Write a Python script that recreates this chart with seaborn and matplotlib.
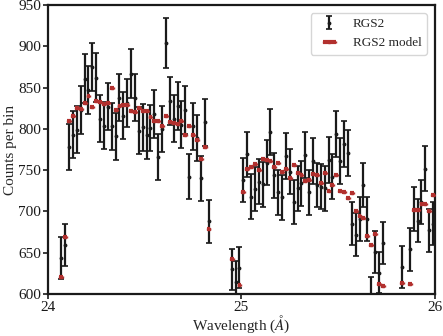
import numpy as np
import pandas as pd
import seaborn as sns
import matplotlib.pyplot as plt

# bin centres (Angstrom), observed counts and model counts
wavelength = [24.07, 24.09, 24.11, 24.13, 24.15, 24.17, 24.19, 24.21, 24.23, 24.25,
              24.27, 24.29, 24.31, 24.33, 24.35, 24.37, 24.39, 24.41, 24.43, 24.45,
              24.47, 24.49, 24.51, 24.53, 24.55, 24.57, 24.59, 24.61, 24.63, 24.65,
              24.67, 24.69, 24.71, 24.73, 24.75, 24.77, 24.79, 24.81, 24.83,
              24.95, 24.97, 24.99, 25.01, 25.03, 25.05, 25.07, 25.09, 25.11, 25.13,
              25.15, 25.17, 25.19, 25.21, 25.23, 25.25, 25.27, 25.29, 25.31, 25.33,
              25.35, 25.37, 25.39, 25.41, 25.43, 25.45, 25.47, 25.49, 25.51, 25.53,
              25.55, 25.57, 25.59, 25.61, 25.63, 25.65, 25.67, 25.69, 25.71, 25.73,
              25.83, 25.87, 25.89, 25.91, 25.93, 25.95, 25.97, 25.99]
counts = [644, 659, 778, 793, 799, 823, 861, 847, 875, 862,
          812, 804, 827, 803, 791, 838, 816, 831, 867, 838,
          798, 802, 792, 801, 818, 766, 800, 904, 834, 812,
          828, 805, 823, 742, 803, 789, 740, 808, 688,
          630, 615, 632, 738, 769, 718, 727, 736, 733, 759,
          796, 744, 723, 717, 767, 748, 711, 728, 734, 768,
          723, 761, 732, 730, 728, 762, 742, 794, 761, 782,
          771, 685, 672, 691, 732, 691, 596, 651, 626, 662,
          633, 654, 703, 689, 711, 752, 677, 685]
model = [620, 669, 809, 816, 825, 824, 831, 840, 826, 834,
         832, 830, 831, 849, 823, 828, 829, 829, 822, 820,
         825, 822, 822, 814, 810, 810, 804, 815, 808, 807,
         806, 810, 792, 803, 793, 787, 764, 778, 679,
         642, 590, 611, 724, 752, 754, 757, 750, 763, 762,
         761, 754, 759, 748, 752, 740, 756, 747, 744, 737,
         738, 745, 744, 734, 747, 725, 732, 744, 725, 723,
         716, 722, 701, 694, 692, 670, 659, 673, 612, 610,
         613, 612, 702, 702, 709, 709, 700, 720]
bin_width = 0.02

df = pd.DataFrame({"wl": wavelength, "counts": counts, "model": model})
df["err"] = np.sqrt(df["counts"])  # poisson errors

sns.set_theme(style="ticks")
plt.rcParams["font.family"] = ["Liberation Serif", "DejaVu Serif"]
plt.rcParams["mathtext.fontset"] = "stix"

fig = plt.figure(figsize=(4.43, 3.36), dpi=100)
ax = fig.add_axes([0.108, 0.125, 0.874, 0.86])

ax.errorbar(df["wl"], df["counts"], yerr=df["err"], fmt=".", color="k",
            ms=3.5, elinewidth=1.6, capsize=2, capthick=1.2, label="RGS2", zorder=2)
ax.errorbar(df["wl"], df["model"], xerr=bin_width / 2, fmt="s", color="#b2302e",
            ms=2, elinewidth=3, capsize=1, label="RGS2 model", zorder=3)

ax.set_xlim(24, 26)
ax.set_ylim(600, 950)
ax.set_xticks([24, 25, 26])
ax.set_yticks(np.arange(600, 951, 50))
ax.tick_params(labelsize=11, width=1.2, length=3.5, pad=1.5, colors="k")
for sp in ax.spines.values():
    sp.set_linewidth(1.6)
    sp.set_color("k")
ax.set_xlabel("Wavelength ($\\AA$)", fontsize=11, labelpad=-0.5)
ax.set_ylabel("Counts per bin", fontsize=11, labelpad=1)
ax.legend(loc="upper right", fontsize=9.5, frameon=True, borderaxespad=0.6)

fig.savefig("out.png", dpi=100)
